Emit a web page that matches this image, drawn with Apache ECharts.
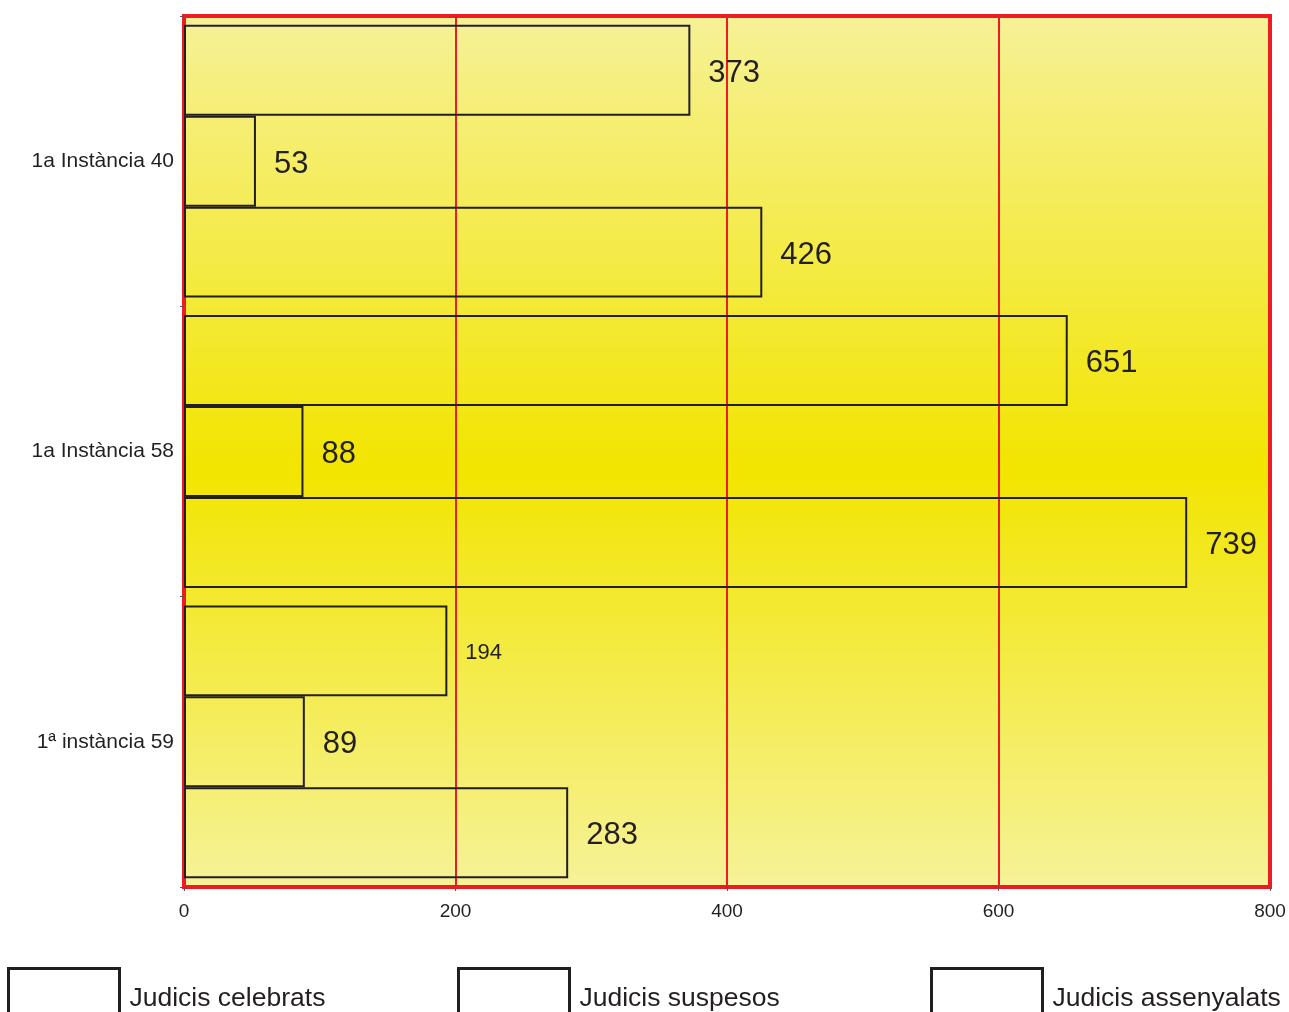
<!DOCTYPE html>
<html>
<head>
<meta charset="utf-8">
<script src="https://cdn.jsdelivr.net/npm/echarts@6/dist/echarts.min.js"></script>
<style>html,body{margin:0;padding:0;background:#fff}#c{width:1289px;height:1012px}</style>
</head>
<body>
<div id="c"></div>
<script>
const categories = ['1a Instància 40', '1a Instància 58', '1ª instància 59'];
const seriesNames = ['Judicis celebrats', 'Judicis suspesos', 'Judicis assenyalats'];
const celebrats = [373, 651, 194];
const suspesos = [53, 88, 89];
const assenyalats = [426, 739, 283];
const xTicks = [0, 200, 400, 600, 800];

const chart = echarts.init(document.getElementById('c'), null, {renderer: 'canvas'});
const txt = '#231f20';
const font = '"Liberation Sans", Arial, sans-serif';

function mk(name, vals) {
  return {
    name: name,
    type: 'bar',
    data: vals.map(v => ({
      value: v,
      label: v === 194 ? {fontSize: 22, offset: [0, 2]} : undefined
    })),
    barGap: '0%',
    barCategoryGap: '6%',
    itemStyle: {color: 'rgba(0,0,0,0)', borderColor: txt, borderWidth: 2},
    label: {show: true, position: 'right', distance: 18, fontSize: 31, offset: [0, 3], color: txt, fontFamily: font},
    z: 2
  };
}

const legendPos = [7, 457, 930];

chart.setOption({
  animation: false,
  backgroundColor: '#ffffff',
  textStyle: {fontFamily: font, color: txt},
  grid: {
    left: 184, right: 19, top: 16, bottom: 125,
    show: true,
    borderColor: '#ed1c24', borderWidth: 4,
    backgroundColor: {
      type: 'linear', x: 0, y: 0, x2: 0, y2: 1,
      colorStops: [
        {offset: 0, color: '#f6f197'},
        {offset: 0.52, color: '#f2e500'},
        {offset: 1, color: '#f6f299'}
      ]
    }
  },
  legend: seriesNames.map((n, i) => ({
    data: [n],
    left: legendPos[i], top: 967, padding: 0,
    itemWidth: 111, itemHeight: 60, itemGap: 12,
    icon: 'rect',
    itemStyle: {color: 'rgba(0,0,0,0)', borderColor: txt, borderWidth: 3},
    textStyle: {fontSize: 26.5, color: txt, fontFamily: font, padding: [0, 0, 0, 5]},
    selectedMode: false
  })),
  xAxis: {
    type: 'value', min: 0, max: 800, interval: 200,
    axisLine: {show: false},
    axisTick: {show: true, length: 4, lineStyle: {color: '#555'}},
    splitLine: {show: true, lineStyle: {color: '#ed1c24', width: 2}},
    axisLabel: {fontSize: 19, color: txt, margin: 15, fontFamily: font,
      formatter: v => xTicks.includes(v) ? String(v) : ''}
  },
  yAxis: {
    type: 'category', data: categories, inverse: true,
    axisLine: {show: false},
    axisTick: {show: true, length: 4, lineStyle: {color: '#555'}},
    axisLabel: {fontSize: 21, color: txt, margin: 10, fontFamily: font}
  },
  series: [mk(seriesNames[0], celebrats), mk(seriesNames[1], suspesos), mk(seriesNames[2], assenyalats)]
});
</script>
</body>
</html>
